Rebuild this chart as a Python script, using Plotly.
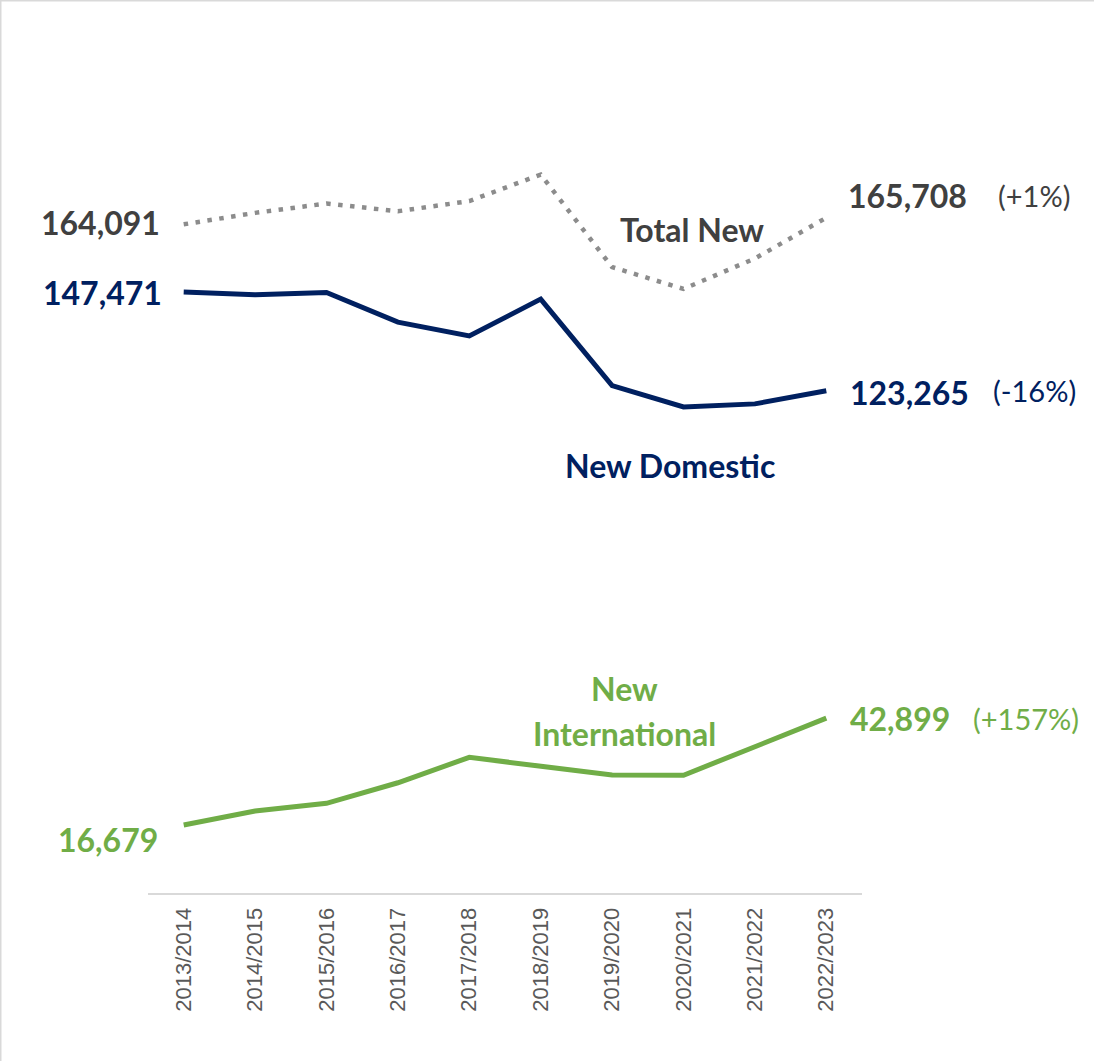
import plotly.graph_objects as go

years = ["2013/2014", "2014/2015", "2015/2016", "2016/2017", "2017/2018",
         "2018/2019", "2019/2020", "2020/2021", "2021/2022", "2022/2023"]
total_new = [164091, 166900, 169200, 167300, 169800, 176300, 153600, 148250, 155700, 165708]
new_domestic = [147471, 146780, 147350, 140080, 136720, 145730, 124520, 119290, 120030, 123265]
new_international = [16679, 20110, 22000, 27050, 33290, 31230, 28940, 28900, 35750, 42899]

pct_total = "(+1%)"
pct_domestic = "(-16%)"
pct_international = "(+157%)"

GRAY_LINE = "#8c8c8c"
GRAY_TEXT = "#404040"
NAVY = "#002060"
GREEN = "#70ad47"
FONT = "Lato"

fig = go.Figure()
fig.add_trace(go.Scatter(x=years, y=total_new, mode="lines",
                         line=dict(color=GRAY_LINE, width=4.5, dash="4.5px,7.5px"),
                         hoverinfo="skip"))
fig.add_trace(go.Scatter(x=years, y=new_domestic, mode="lines",
                         line=dict(color=NAVY, width=5), hoverinfo="skip"))
fig.add_trace(go.Scatter(x=years, y=new_international, mode="lines",
                         line=dict(color=GREEN, width=5), hoverinfo="skip"))

def fmt(v):
    return f"{v:,}"

ann = []
def add(text, x, y, color, size, bold=True, xanchor="center", xshift=0, yshift=0):
    ann.append(dict(text=f"<b>{text}</b>" if bold else text, x=x, y=y, xref="x", yref="y",
                    showarrow=False, xanchor=xanchor, yanchor="middle",
                    xshift=xshift, yshift=yshift,
                    font=dict(family=FONT, size=size, color=color)))

first, last = years[0], years[-1]
# start labels
add(fmt(total_new[0]), first, total_new[0], GRAY_TEXT, 32, xanchor="right", xshift=-22, yshift=2)
add(fmt(new_domestic[0]), first, new_domestic[0], NAVY, 32, xanchor="right", xshift=-20)
add(fmt(new_international[0]), first, new_international[0], GREEN, 32, xanchor="right", xshift=-24, yshift=-14)
# end labels
add(fmt(total_new[-1]), last, total_new[-1], GRAY_TEXT, 32, xanchor="left", xshift=20, yshift=22)
add(pct_total, last, total_new[-1], GRAY_TEXT, 29, bold=False, xanchor="left", xshift=170, yshift=22)
add(fmt(new_domestic[-1]), last, new_domestic[-1], NAVY, 32, xanchor="left", xshift=22, yshift=-2)
add(pct_domestic, last, new_domestic[-1], NAVY, 29, bold=False, xanchor="left", xshift=165, yshift=0)
add(fmt(new_international[-1]), last, new_international[-1], GREEN, 32, xanchor="left", xshift=22, yshift=0)
add(pct_international, last, new_international[-1], GREEN, 29, bold=False, xanchor="left", xshift=145, yshift=0)
# series names
add("Total New", 7.12, 162800, GRAY_TEXT, 32)
add("New Domestic", 6.81, 104800, NAVY, 32)
add("New", 6.18, 50300, GREEN, 32)
add("International", 6.18, 39200, GREEN, 32)

fig.update_layout(
    width=1094, height=1061,
    margin=dict(l=148, r=232, t=78, b=168),
    paper_bgcolor="white", plot_bgcolor="white",
    showlegend=False,
    annotations=ann,
    xaxis=dict(type="category", range=[-0.5, 9.5], showgrid=False, zeroline=False,
               showline=True, linecolor="#d9d9d9", linewidth=2,
               ticks="", tickangle=-90, ticklabelstandoff=4,
               tickfont=dict(family="Liberation Sans", size=22, color="#595959")),
    yaxis=dict(range=[0, 200000], visible=False, showgrid=False, zeroline=False),
    shapes=[
        dict(type="line", xref="paper", yref="paper", x0=-148/714, x1=(1094-148)/714,
             y0=(1061-168-0.5)/815, y1=(1061-168-0.5)/815,
             line=dict(color="#d9d9d9", width=2)),
        dict(type="line", xref="paper", yref="paper", x0=-147.5/714, x1=-147.5/714,
             y0=-168/815, y1=(1061-168)/815,
             line=dict(color="#d9d9d9", width=2)),
    ],
)

fig.write_html("out.html", config={"displayModeBar": False},
               post_script="document.body.style.margin='0';document.body.style.overflow='hidden';")
